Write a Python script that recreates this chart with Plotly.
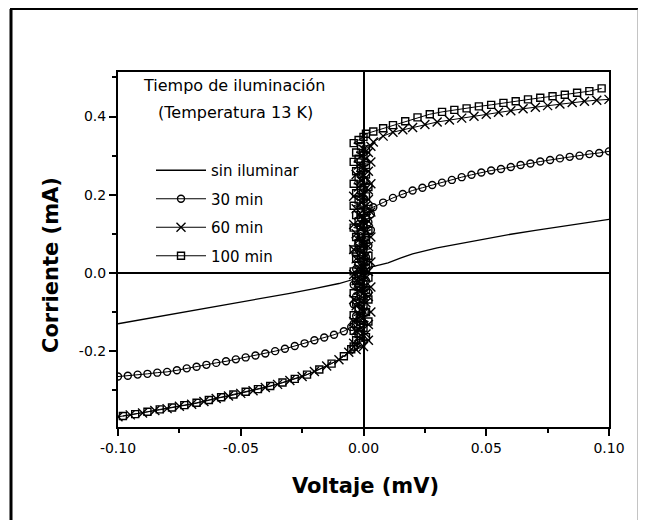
import plotly.graph_objects as go

# ---------------- data ----------------
x_tick_vals = [-0.10, -0.05, 0.00, 0.05, 0.10]
x_tick_text = ["-0.10", "-0.05", "0.00", "0.05", "0.10"]
x_minor_vals = [-0.075, -0.025, 0.025, 0.075]
y_tick_vals = [-0.2, 0.0, 0.2, 0.4]
y_tick_text = ["-0.2", "0.0", "0.2", "0.4"]
y_minor_vals = [-0.3, -0.1, 0.1, 0.3, 0.5]

series_names = ["sin iluminar", "30 min", "60 min", "100 min"]

# sin iluminar
volt_0 = [-0.100, -0.090, -0.080, -0.070, -0.060, -0.050, -0.040, -0.030, -0.020,
          -0.010, -0.005, -0.002, 0.000, 0.001, 0.002, 0.005, 0.010, 0.015, 0.020,
          0.030, 0.040, 0.050, 0.060, 0.070, 0.080, 0.090, 0.100]
curr_0 = [-0.130, -0.119, -0.108, -0.097, -0.086, -0.074, -0.063, -0.052, -0.040,
          -0.027, -0.018, -0.009, 0.000, 0.008, 0.014, 0.018, 0.026, 0.038, 0.049,
          0.064, 0.076, 0.088, 0.099, 0.109, 0.118, 0.128, 0.137]

# 30 min: negative branch, steep part near 0 V, positive branch
volt_30 = [-0.100, -0.096, -0.092, -0.088, -0.084, -0.080, -0.076, -0.072, -0.068,
           -0.064, -0.060, -0.056, -0.052, -0.048, -0.044, -0.040, -0.036, -0.032,
           -0.028, -0.024, -0.020, -0.016, -0.012, -0.008, -0.005,
           -0.004, -0.001, -0.003, 0.001, -0.002, -0.004, 0.000, -0.003, 0.002, -0.001,
           -0.004, 0.001, -0.002, 0.000, -0.003, 0.002, -0.001, 0.001, -0.003, 0.000,
           0.002, -0.002, 0.001, -0.001, 0.003, 0.000, 0.002, -0.001, 0.003, 0.001,
           0.004, 0.008, 0.012, 0.016, 0.020, 0.024, 0.028, 0.032, 0.036, 0.040,
           0.044, 0.048, 0.052, 0.056, 0.060, 0.064, 0.068, 0.072, 0.076, 0.080,
           0.084, 0.088, 0.092, 0.096, 0.100]
curr_30 = [-0.265, -0.263, -0.260, -0.258, -0.255, -0.253, -0.249, -0.244, -0.240,
           -0.235, -0.230, -0.226, -0.221, -0.216, -0.211, -0.206, -0.200, -0.194,
           -0.187, -0.180, -0.172, -0.165, -0.158, -0.149, -0.138,
           -0.130, -0.120, -0.110, -0.100, -0.090, -0.080, -0.070, -0.060, -0.050, -0.040,
           -0.030, -0.020, -0.010, 0.000, 0.010, 0.020, 0.030, 0.040, 0.050, 0.060,
           0.070, 0.080, 0.090, 0.100, 0.110, 0.120, 0.130, 0.140, 0.150, 0.160,
           0.168, 0.180, 0.192, 0.202, 0.211, 0.218, 0.225, 0.231, 0.238, 0.245,
           0.251, 0.257, 0.262, 0.266, 0.271, 0.276, 0.280, 0.285, 0.289, 0.293,
           0.297, 0.300, 0.304, 0.307, 0.311]

# 60 min
volt_60 = [-0.100, -0.095, -0.090, -0.085, -0.080, -0.075, -0.070, -0.065, -0.060,
           -0.055, -0.050, -0.045, -0.040, -0.035, -0.030, -0.025, -0.020, -0.015,
           -0.010, -0.006,
           -0.003, 0.000, -0.004, 0.002, -0.002, 0.001, -0.003, -0.001, 0.002, -0.004,
           0.000, -0.002, 0.003, -0.001, -0.003, 0.001, -0.004, 0.002, 0.000, -0.002,
           0.003, -0.001, -0.003, 0.001, -0.004, 0.002, -0.002, 0.000, 0.003, -0.003,
           0.001, -0.001, -0.004, 0.002, 0.000, -0.002, 0.003, -0.003, 0.001, -0.001,
           -0.004, 0.002, 0.000, -0.002, 0.003, -0.003, 0.001, -0.001, 0.002, -0.004,
           0.000, 0.002, -0.002, 0.003, -0.001, 0.001, -0.003, 0.002, 0.000, -0.002,
           0.003, 0.001, -0.001, 0.002, 0.000, 0.003,
           0.004, 0.008, 0.012, 0.016, 0.020, 0.025, 0.030, 0.035, 0.040, 0.045,
           0.050, 0.055, 0.060, 0.065, 0.070, 0.075, 0.080, 0.085, 0.090, 0.095,
           0.100]
curr_60 = [-0.368, -0.363, -0.358, -0.352, -0.347, -0.341, -0.336, -0.329, -0.321,
           -0.315, -0.308, -0.301, -0.293, -0.285, -0.275, -0.265, -0.252, -0.238,
           -0.222, -0.203,
           -0.196, -0.188, -0.180, -0.172, -0.164, -0.156, -0.148, -0.140, -0.132, -0.124,
           -0.116, -0.108, -0.100, -0.092, -0.084, -0.076, -0.068, -0.060, -0.052, -0.044,
           -0.036, -0.028, -0.020, -0.012, -0.004, 0.004, 0.012, 0.020, 0.028, 0.036,
           0.044, 0.052, 0.060, 0.068, 0.076, 0.084, 0.092, 0.100, 0.108, 0.116,
           0.124, 0.132, 0.140, 0.148, 0.156, 0.164, 0.172, 0.180, 0.188, 0.196,
           0.204, 0.212, 0.220, 0.228, 0.236, 0.244, 0.252, 0.260, 0.268, 0.276,
           0.284, 0.292, 0.300, 0.308, 0.316, 0.324,
           0.335, 0.350, 0.360, 0.366, 0.372, 0.380, 0.386, 0.391, 0.396, 0.401,
           0.406, 0.411, 0.415, 0.420, 0.424, 0.428, 0.432, 0.436, 0.439, 0.442,
           0.444]

# 100 min
volt_100 = [-0.098, -0.093, -0.088, -0.083, -0.078, -0.073, -0.068, -0.063, -0.058,
            -0.053, -0.048, -0.043, -0.038, -0.033, -0.028, -0.023, -0.018, -0.013,
            -0.008, -0.005,
            -0.004, -0.001, -0.003, 0.001, -0.002, -0.004, 0.000, -0.003, 0.002, -0.001,
            -0.004, 0.001, -0.002, 0.000, -0.003, 0.002, -0.001, -0.004, 0.001, -0.002,
            0.000, -0.003, 0.002, -0.001, -0.004, 0.001, -0.002, 0.000, -0.003, 0.002,
            -0.001, -0.004, 0.000, -0.002, 0.001, -0.003, -0.001, 0.002, -0.004, 0.000,
            -0.002, 0.001, -0.003, -0.001, 0.002, -0.004, 0.000, -0.002, 0.001, -0.003,
            -0.001, 0.002, -0.004, 0.000, -0.002, 0.001, -0.003, -0.001, 0.001, -0.004,
            -0.002, 0.000, -0.003, 0.001, -0.001, -0.004, -0.002, 0.000, 0.001,
            0.004, 0.008, 0.012, 0.017, 0.022, 0.027, 0.032, 0.037, 0.042, 0.047,
            0.052, 0.057, 0.062, 0.067, 0.072, 0.077, 0.082, 0.087, 0.092, 0.097]
curr_100 = [-0.366, -0.361, -0.355, -0.349, -0.344, -0.338, -0.332, -0.325, -0.318,
            -0.311, -0.304, -0.297, -0.289, -0.280, -0.271, -0.260, -0.247, -0.232,
            -0.213, -0.195,
            -0.188, -0.180, -0.172, -0.164, -0.156, -0.148, -0.140, -0.132, -0.124, -0.116,
            -0.108, -0.100, -0.092, -0.084, -0.076, -0.068, -0.060, -0.052, -0.044, -0.036,
            -0.028, -0.020, -0.012, -0.004, 0.004, 0.012, 0.020, 0.028, 0.036, 0.044,
            0.052, 0.060, 0.068, 0.076, 0.084, 0.092, 0.100, 0.108, 0.116, 0.124,
            0.132, 0.140, 0.148, 0.156, 0.164, 0.172, 0.180, 0.188, 0.196, 0.204,
            0.212, 0.220, 0.228, 0.236, 0.244, 0.252, 0.260, 0.268, 0.276, 0.284,
            0.292, 0.300, 0.308, 0.316, 0.324, 0.332, 0.340, 0.348, 0.356,
            0.362, 0.370, 0.378, 0.388, 0.398, 0.406, 0.412, 0.417, 0.421, 0.426,
            0.430, 0.435, 0.439, 0.444, 0.448, 0.452, 0.456, 0.461, 0.465, 0.472]

legend_title_1 = "Tiempo de iluminación"
legend_title_2 = "(Temperatura 13 K)"
x_title = "Voltaje (mV)"
y_title = "Corriente (mA)"

# ---------------- figure ----------------
FONT = "DejaVu Sans"
OFF = 8                      # page body margin of the html page
W, H = 646 - OFF, 520 - OFF  # figure size so nothing overflows the window
# plot area in window pixels: 118..609 x 72..427
L, R, T, B = 118 - OFF, 609 - OFF, 72 - OFF, 427 - OFF


def px(xw):
    """window pixel x -> paper x"""
    return (xw - OFF - L) / (R - L)


def py(yw):
    """window pixel y -> paper y"""
    return (B - (yw - OFF)) / (B - T)


fig = go.Figure()

fig.add_trace(go.Scatter(x=volt_0, y=curr_0, mode="lines", name=series_names[0],
                         legendgroup="g0",
                         line=dict(color="black", width=1.3)))
fig.add_trace(go.Scatter(x=volt_30, y=curr_30, mode="lines+markers", name=series_names[1],
                         legendgroup="g1",
                         line=dict(color="black", width=1),
                         marker=dict(symbol="circle-open", size=7,
                                     color="black", line=dict(width=1.4, color="black"))))
fig.add_trace(go.Scatter(x=volt_60, y=curr_60, mode="lines+markers", name=series_names[2],
                         legendgroup="g2",
                         line=dict(color="black", width=1),
                         marker=dict(symbol="x-thin-open", size=9,
                                     color="black", line=dict(width=1.4, color="black"))))
fig.add_trace(go.Scatter(x=volt_100, y=curr_100, mode="lines+markers", name=series_names[3],
                         legendgroup="g3",
                         line=dict(color="black", width=1),
                         marker=dict(symbol="square-open", size=7,
                                     color="black", line=dict(width=1.4, color="black"))))

axis_common = dict(
    showline=True, linecolor="black", linewidth=2, mirror=True,
    showgrid=False, ticks="outside", ticklen=7, tickwidth=1.5, tickcolor="black",
    zeroline=True, zerolinecolor="black", zerolinewidth=1.6,
    tickfont=dict(family=FONT, size=14, color="black"),
)

fig.update_layout(
    width=W, height=H,
    margin=dict(l=L, r=W - R, t=T, b=H - B, pad=0),
    paper_bgcolor="white", plot_bgcolor="white",
    font=dict(family=FONT, color="black"),
    xaxis=dict(range=[-0.1, 0.1], tickvals=x_tick_vals, ticktext=x_tick_text,
               minor=dict(tickvals=x_minor_vals, ticks="outside", ticklen=4,
                          tickwidth=1.5, tickcolor="black"),
               **axis_common),
    yaxis=dict(range=[-0.394, 0.514], tickvals=y_tick_vals, ticktext=y_tick_text,
               minor=dict(tickvals=y_minor_vals, ticks="outside", ticklen=4,
                          tickwidth=1.5, tickcolor="black"),
               **axis_common),
    showlegend=True,
    legend=dict(x=px(151), y=py(154), xanchor="left", yanchor="top",
                bgcolor="rgba(0,0,0,0)", borderwidth=0,
                font=dict(family=FONT, size=15, color="black"),
                itemwidth=50, traceorder="grouped", tracegroupgap=6,
                itemclick=False),
)

# titles
fig.add_annotation(text=x_title, xref="paper", yref="paper", x=px(365), y=py(486),
                   showarrow=False, xanchor="center", yanchor="middle",
                   font=dict(family=FONT, size=21, color="black", weight="bold"))
fig.add_annotation(text=y_title, xref="paper", yref="paper", x=px(51), y=py(265),
                   showarrow=False, xanchor="center", yanchor="middle", textangle=-90,
                   font=dict(family=FONT, size=21, color="black", weight="bold"))
fig.add_annotation(text=legend_title_1, xref="paper", yref="paper", x=px(234), y=py(86),
                   showarrow=False, xanchor="center", yanchor="middle",
                   font=dict(family=FONT, size=16, color="black"))
fig.add_annotation(text=legend_title_2, xref="paper", yref="paper", x=px(235), y=py(113),
                   showarrow=False, xanchor="center", yanchor="middle",
                   font=dict(family=FONT, size=16, color="black"))

# outer frame of the scanned figure
fig.add_shape(type="line", xref="paper", yref="paper",
              x0=px(10), x1=px(640), y0=py(9), y1=py(9),
              line=dict(color="black", width=2))
fig.add_shape(type="line", xref="paper", yref="paper",
              x0=px(11), x1=px(11), y0=py(9), y1=py(530),
              line=dict(color="black", width=3))
fig.add_shape(type="line", xref="paper", yref="paper",
              x0=px(638), x1=px(638), y0=py(9), y1=py(530),
              line=dict(color="#888888", width=1))

fig.write_html("out.html")
